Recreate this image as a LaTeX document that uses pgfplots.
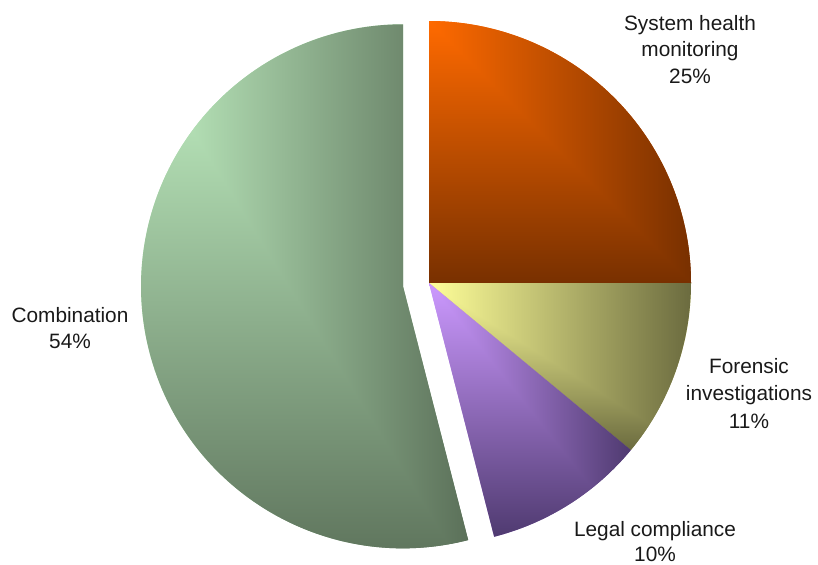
\documentclass[border=0pt]{standalone}
\usepackage{pgfplots}
\usepackage{pgfplotstable}
\pgfplotsset{compat=1.18}
\usepackage{fontspec}
\setmainfont{Liberation Sans}
\pgfplotstableread{
label value
Health 25
Forensic 11
Legal 10
Combination 54
}\piedata
\definecolor{hL}{HTML}{FF6A00}\definecolor{hD}{HTML}{783000}
\definecolor{fL}{HTML}{FFFF99}\definecolor{fD}{HTML}{6B6B3F}
\definecolor{lL}{HTML}{CC99FF}\definecolor{lD}{HTML}{4F3A70}
\definecolor{cL}{HTML}{C6F7C8}\definecolor{cD}{HTML}{5B7059}
\newcommand{\slice}[6]{%
  \shade[left color=#5, right color=#6] (axis cs:#1,#2) -- ++(#3:131pt) arc[start angle=#3, end angle=#4, radius=131pt] -- cycle;
  \shade[top color=#5, bottom color=#6, blend mode=darken] (axis cs:#1,#2) -- ++(#3:131pt) arc[start angle=#3, end angle=#4, radius=131pt] -- cycle;
}
\begin{document}%
\begin{tikzpicture}
\pgfplotstablegetelem{0}{value}\of\piedata \pgfmathsetmacro{\vA}{\pgfplotsretval}
\pgfplotstablegetelem{1}{value}\of\piedata \pgfmathsetmacro{\vB}{\pgfplotsretval}
\pgfplotstablegetelem{2}{value}\of\piedata \pgfmathsetmacro{\vC}{\pgfplotsretval}
\pgfplotstablegetelem{3}{value}\of\piedata \pgfmathsetmacro{\vD}{\pgfplotsretval}
\pgfmathsetmacro{\aA}{90}
\pgfmathsetmacro{\aB}{90-3.6*\vA}
\pgfmathsetmacro{\aC}{\aB-3.6*\vB}
\pgfmathsetmacro{\aD}{\aC-3.6*\vC}
\pgfmathsetmacro{\aE}{\aD-3.6*\vD}
\pgfmathsetmacro{\mid}{(\aD+\aE)/2}
\pgfmathsetmacro{\cxD}{429+26.2*cos(\mid)}
\pgfmathsetmacro{\cyD}{281+26.2*sin(\mid)}
\begin{axis}[
  scale only axis, width=409pt, height=282pt,
  xmin=0, xmax=818, ymin=0, ymax=564,
  hide axis, clip=false,
]
\addplot[draw=none, mark=none] coordinates {(0,0) (818,564)};
\slice{429}{281}{\aA}{\aB}{hL}{hD}
\slice{429}{281}{\aB}{\aC}{fL}{fD}
\slice{429}{281}{\aC}{\aD}{lL}{lD}
\slice{\cxD}{\cyD}{\aD}{\aE}{cL}{cD}
\begin{scope}[every node/.style={font=\fontsize{10.4pt}{12pt}\selectfont, anchor=base, inner sep=0pt, text=black!90}]
\node at (axis cs:690,534) {System health};
\node at (axis cs:690,507.5) {monitoring};
\node at (axis cs:690,481) {25\%};
\node at (axis cs:749,191) {Forensic};
\node at (axis cs:749,163.5) {investigations};
\node at (axis cs:749,136) {11\%};
\node at (axis cs:655,27.5) {Legal compliance};
\node at (axis cs:655,2.5) {10\%};
\node at (axis cs:70,242) {Combination};
\node at (axis cs:70,216) {54\%};
\end{scope}
\end{axis}
\pgfresetboundingbox
\useasboundingbox (0,0) rectangle (409pt,282pt);
\end{tikzpicture}%
\end{document}
